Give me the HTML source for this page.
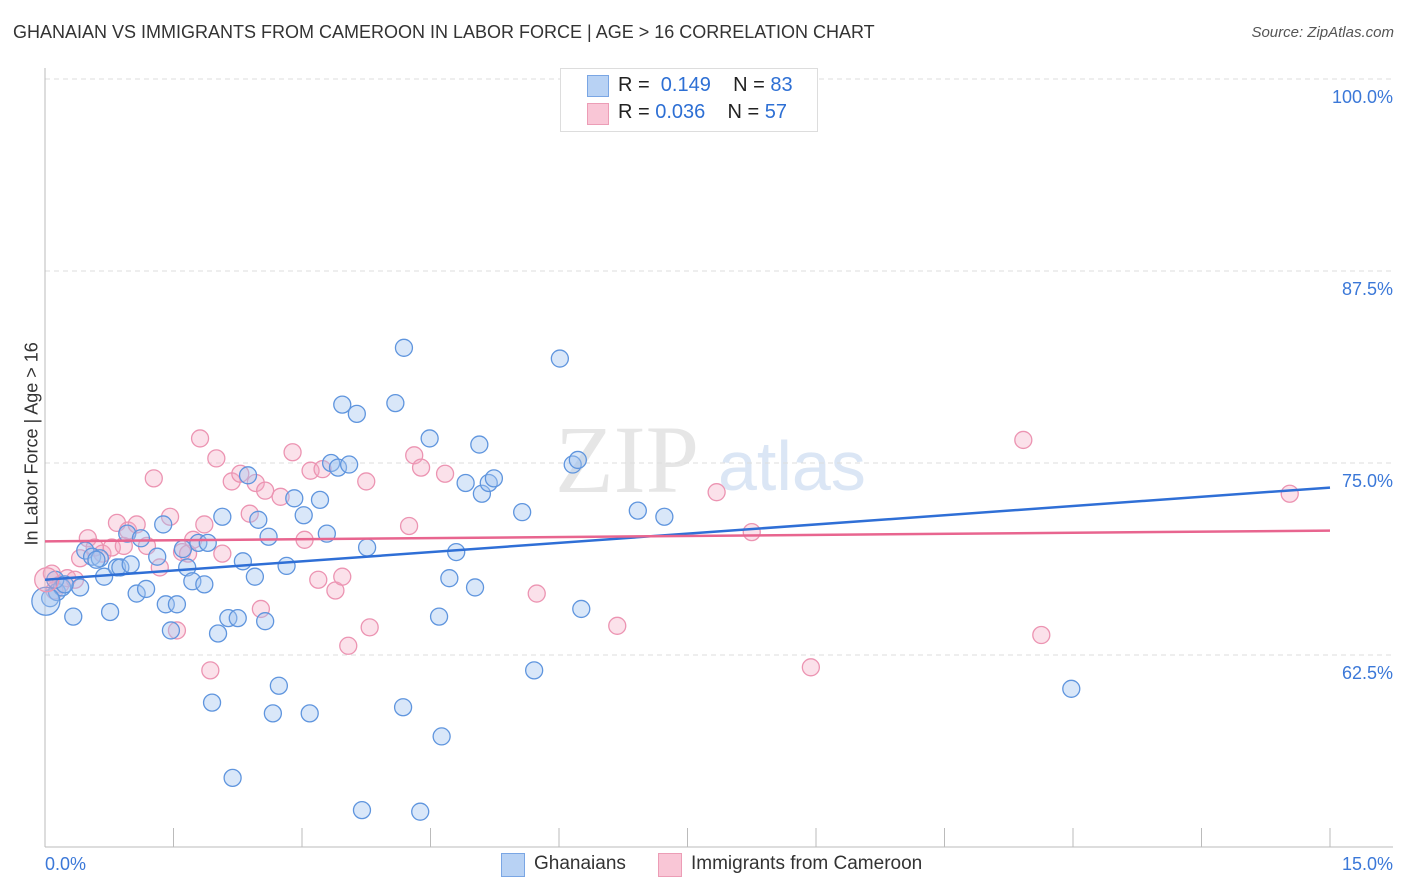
<!DOCTYPE html>
<html><head><meta charset="utf-8">
<style>
body{margin:0;background:#fff;font-family:"Liberation Sans",sans-serif;}
#wrap{position:relative;width:1406px;height:892px;overflow:hidden;}
.t{position:absolute;white-space:nowrap;}
</style></head>
<body>
<div id="wrap">
<div class="t" style="left:13px;top:22px;font-size:18px;color:#333;">GHANAIAN VS IMMIGRANTS FROM CAMEROON IN LABOR FORCE | AGE &gt; 16 CORRELATION CHART</div>
<div class="t" style="right:12px;top:24px;font-size:15px;font-style:italic;color:#555;">Source: ZipAtlas.com</div>
<div class="t" style="left:-58px;top:445px;font-size:18px;color:#333;transform:rotate(-90deg);transform-origin:center;width:180px;text-align:center;">In Labor Force | Age &gt; 16</div>
<svg id="svg" width="1406" height="892" style="position:absolute;left:0;top:0"></svg>
<div style="position:absolute;left:560px;top:68px;width:256px;height:62px;border:1px solid #ddd;background:#fff;"></div>
<div style="position:absolute;left:587px;top:75px;width:20px;height:20px;background:#b8d2f4;border:1px solid #7aa6e4;"></div>
<div style="position:absolute;left:587px;top:103px;width:20px;height:20px;background:#f9c6d6;border:1px solid #ec9db6;"></div>
<div class="t" style="left:618px;top:74px;font-size:20px;color:#222;">R = &nbsp;<span style="color:#2d6fd4">0.149</span>&nbsp;&nbsp;&nbsp; N = <span style="color:#2d6fd4">83</span></div>
<div class="t" style="left:618px;top:101px;font-size:20px;color:#222;">R = <span style="color:#2d6fd4">0.036</span>&nbsp;&nbsp;&nbsp; N = <span style="color:#2d6fd4">57</span></div>
<div style="position:absolute;left:501px;top:853px;width:22px;height:22px;background:#b8d2f4;border:1px solid #7aa6e4;"></div>
<div class="t" style="left:534px;top:853px;font-size:19px;color:#333;">Ghanaians</div>
<div style="position:absolute;left:658px;top:853px;width:22px;height:22px;background:#f9c6d6;border:1px solid #ec9db6;"></div>
<div class="t" style="left:691px;top:853px;font-size:19px;color:#333;">Immigrants from Cameroon</div>
</div>
<script>
const xTickLabels=["0.0%","15.0%"];
const yTicks=[62.5,75,87.5,100];
const yTickLabels=["62.5%","75.0%","87.5%","100.0%"];
const blueX=[0.06,0.14,0.20,0.33,0.41,0.47,0.55,0.64,0.69,0.76,0.84,0.88,0.96,1.00,1.07,1.12,1.18,1.31,1.38,1.41,1.47,1.54,1.61,1.66,1.72,1.79,1.86,1.90,2.02,2.07,1.95,2.14,2.19,2.25,2.31,2.37,2.45,2.49,2.57,2.61,2.66,2.73,2.82,2.91,3.02,3.09,3.21,3.29,3.34,3.42,3.47,3.55,3.64,3.76,3.70,4.09,4.19,4.18,4.38,4.49,4.60,4.63,4.72,4.80,4.91,5.02,5.07,5.10,5.18,5.24,5.57,5.71,6.01,6.16,6.22,6.26,6.92,7.23,11.98,0.12,0.23,0.60];
const blueY=[66.2,66.6,66.9,65.0,66.9,69.3,68.9,68.8,67.6,65.3,68.2,68.2,70.4,68.4,66.5,70.1,66.8,68.9,71.0,65.8,64.1,65.8,69.4,68.2,67.3,69.8,67.1,69.8,63.9,71.5,59.4,64.9,54.5,64.9,68.6,74.2,67.6,71.3,64.7,70.2,58.7,60.5,68.3,72.7,71.6,58.7,72.6,70.4,75.0,74.7,78.8,74.9,78.2,69.5,52.4,78.9,82.5,59.1,52.3,76.6,65.0,57.2,67.5,69.2,73.7,66.9,76.2,73.0,73.7,74.0,71.8,61.5,81.8,74.9,75.2,65.5,71.9,71.5,60.3,67.4,67.1,68.7];
const pinkX=[0.08,0.18,0.26,0.35,0.41,0.50,0.58,0.67,0.78,0.84,0.92,0.97,1.07,1.19,1.27,1.34,1.46,1.54,1.60,1.67,1.73,1.81,1.86,1.93,2.00,2.07,2.18,2.28,2.39,2.46,2.52,2.57,2.75,2.89,3.03,3.10,3.19,3.24,3.39,3.47,3.54,3.75,3.79,4.25,4.31,4.39,4.67,5.74,6.68,7.84,8.25,8.94,11.42,11.63,14.53,0.11];
const pinkY=[67.8,67.1,67.5,67.4,68.8,70.1,69.5,69.1,69.5,71.1,69.6,70.6,71.0,69.6,74.0,68.2,71.5,64.1,69.2,69.1,70.0,76.6,71.0,61.5,75.3,69.1,73.8,74.3,71.7,73.7,65.5,73.2,72.8,75.7,70.0,74.5,67.4,74.6,66.7,67.6,63.1,73.8,64.3,70.9,75.5,74.7,74.3,66.5,64.4,73.1,70.5,61.7,76.5,63.8,73.0,66.7];
const blueBigX=[0.01],blueBigY=[66.0];
const pinkBigX=[0.02],pinkBigY=[67.4];
const blueTrend=[67.4,73.4];
const pinkTrend=[69.9,70.6];

const X0=45,X1=1330,Y0=79,Y1=847;
const sx=v=>X0+(v/15)*(X1-X0);
const sy=v=>Y0+(100-v)/50*(Y1-Y0);
const svg=document.getElementById('svg');
const NS='http://www.w3.org/2000/svg';
function mk(tag,attrs){const e=document.createElementNS(NS,tag);for(const k in attrs)e.setAttribute(k,attrs[k]);svg.appendChild(e);return e;}

// watermark
let wm=mk('text',{x:555,y:492,'font-size':96,'font-family':'Liberation Serif, serif',fill:'#e6e6e6'});wm.textContent='ZIP';


let wm2=mk('text',{x:718,y:490,'font-size':70,'font-family':'Liberation Sans, sans-serif',fill:'#dbe6f5'});wm2.textContent='atlas';



// gridlines
yTicks.forEach((t,i)=>{
  const g=mk('line',{x1:X0,x2:1393,y1:sy(t),y2:sy(t),stroke:'#ddd','stroke-dasharray':'5,4'});
  
  
  const l=mk('text',{x:1393,y:sy(t)+24,'text-anchor':'end','font-size':18,fill:'#3b78d8','font-family':'Liberation Sans, sans-serif'});
  l.textContent=yTickLabels[i];
  
  
});
// axes
let ax=mk('line',{x1:X0,x2:X0,y1:68,y2:Y1,stroke:'#bbb'});


let bx=mk('line',{x1:X0,x2:1393,y1:Y1,y2:Y1,stroke:'#bbb'});


for(let i=0;i<=10;i++){
  const tk=mk('line',{x1:sx(i*1.5),x2:sx(i*1.5),y1:828,y2:Y1,stroke:'#bbb'});
  
  
}
[[0,'start',45],[15,'end',1393]].forEach((d,i)=>{
  const l=mk('text',{x:d[2],y:870,'text-anchor':d[1],'font-size':18,fill:'#3b78d8','font-family':'Liberation Sans, sans-serif'});
  l.textContent=xTickLabels[i];
  
  
});

function dots(xs,ys,r,fill,stroke,name){
  xs.forEach((x,i)=>{
    const c=mk('circle',{cx:sx(x),cy:sy(ys[i]),r:r,fill:fill,stroke:stroke,'stroke-width':1.3});
    
    
  });
}
dots(pinkX,pinkY,8.5,'rgba(244,170,196,0.35)','#ec94b2','cameroon-point');
dots(blueX,blueY,8.5,'rgba(160,195,240,0.4)','#5f95de','ghanaian-point');
dots(blueBigX,blueBigY,14,'rgba(160,195,240,0.4)','#5f95de','ghanaian-point');
dots(pinkBigX,pinkBigY,12,'rgba(244,170,196,0.35)','#ec94b2','cameroon-point');

let tb=mk('line',{x1:sx(0),x2:sx(15),y1:sy(blueTrend[0]),y2:sy(blueTrend[1]),stroke:'#2f6fd6','stroke-width':2.5});


let tp=mk('line',{x1:sx(0),x2:sx(15),y1:sy(pinkTrend[0]),y2:sy(pinkTrend[1]),stroke:'#e8658f','stroke-width':2.5});


</script>
</body></html>
